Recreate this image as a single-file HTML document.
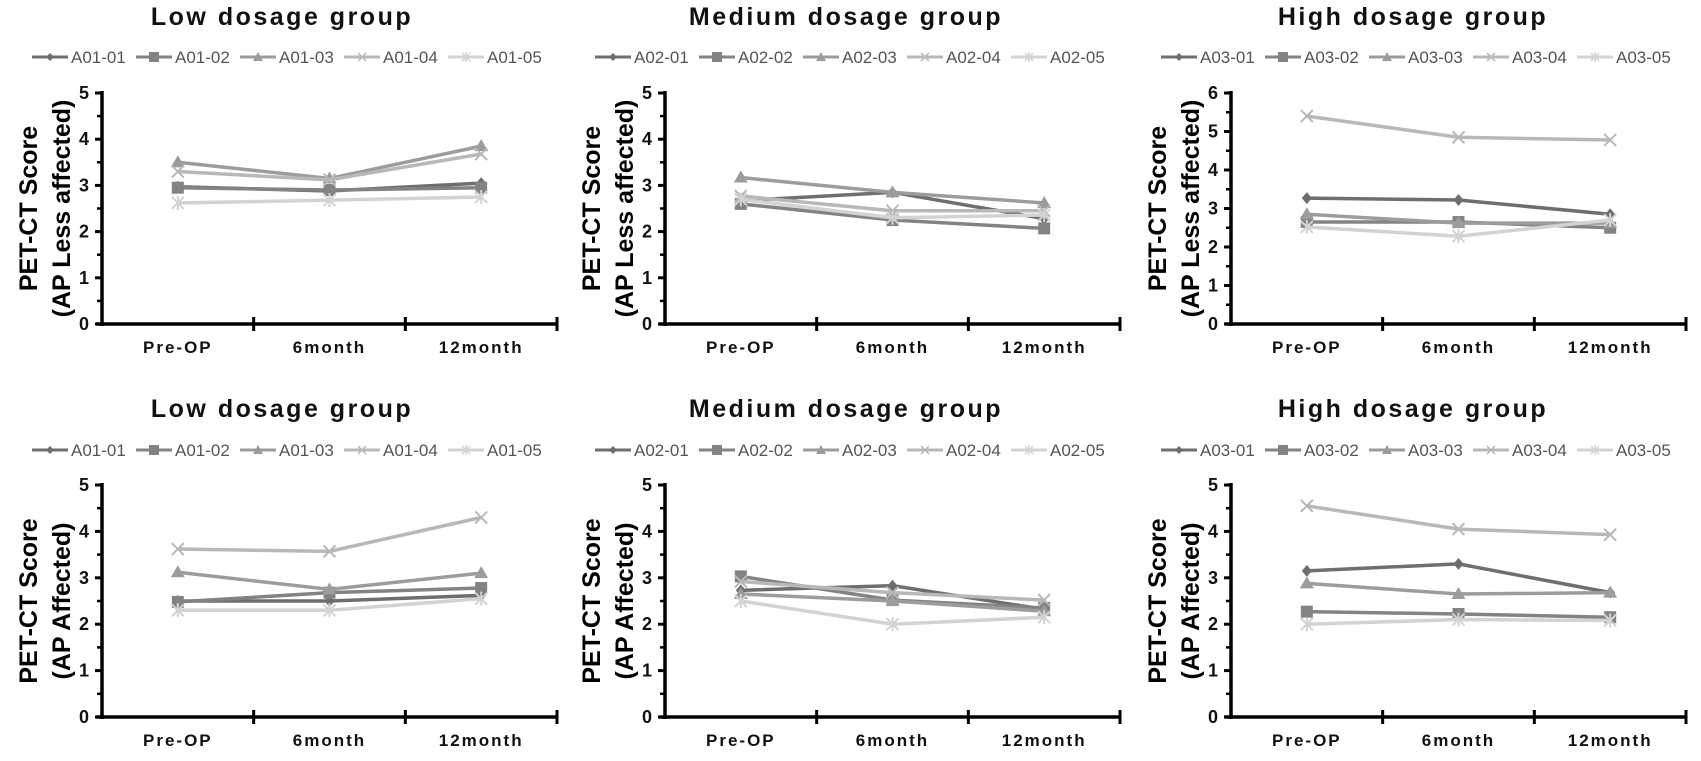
<!DOCTYPE html>
<html><head><meta charset="utf-8"><style>
html,body{margin:0;padding:0;background:#fff;}
svg{display:block;font-family:"Liberation Sans",Arial,sans-serif;}
.t{font-weight:bold;font-size:25px;letter-spacing:2.5px;fill:#111;}
.lg{font-size:17px;fill:#555;}
.tk{font-weight:bold;font-size:18px;fill:#111;}
.cat{font-weight:bold;font-size:17px;letter-spacing:2px;fill:#111;}
.yl{font-weight:bold;font-size:25px;fill:#000;}
</style></head><body>
<svg id="s" width="1701" height="761" viewBox="0 0 1701 761" xmlns="http://www.w3.org/2000/svg">
<text class="t" x="282" y="25" text-anchor="middle">Low dosage group</text>
<text class="t" x="846" y="25" text-anchor="middle">Medium dosage group</text>
<text class="t" x="1413" y="25" text-anchor="middle">High dosage group</text>
<text class="t" x="282" y="417" text-anchor="middle">Low dosage group</text>
<text class="t" x="846" y="417" text-anchor="middle">Medium dosage group</text>
<text class="t" x="1413" y="417" text-anchor="middle">High dosage group</text>
</svg>
<script>
var S=document.getElementById('s'),NS='http://www.w3.org/2000/svg';
function el(n,a,txt){var e=document.createElementNS(NS,n);for(var k in a)e.setAttribute(k,a[k]);if(txt)e.textContent=txt;S.appendChild(e);return e;}
var cols=['#6e6e6e','#838383','#9c9c9c','#b8b8b8','#d3d3d3'];
function marker(k,x,y,c){
 if(k==0)el('polygon',{points:(x)+','+(y-6)+' '+(x+5)+','+y+' '+x+','+(y+6)+' '+(x-5)+','+y,fill:c});
 else if(k==1)el('rect',{x:x-6,y:y-6,width:12,height:12,fill:c});
 else if(k==2)el('polygon',{points:x+','+(y-7)+' '+(x+7)+','+(y+5)+' '+(x-7)+','+(y+5),fill:c});
 else if(k==3){el('path',{d:'M'+(x-6)+' '+(y-6)+'L'+(x+6)+' '+(y+6)+'M'+(x+6)+' '+(y-6)+'L'+(x-6)+' '+(y+6),stroke:c,'stroke-width':2});}
 else {el('path',{d:'M'+(x-6)+' '+(y-6)+'L'+(x+6)+' '+(y+6)+'M'+(x+6)+' '+(y-6)+'L'+(x-6)+' '+(y+6)+'M'+x+' '+(y-7)+'L'+x+' '+(y+7),stroke:c,'stroke-width':2});}
}
function lmarker(k,x,y,c){
 if(k==0)el('polygon',{points:x+','+(y-4)+' '+(x+4)+','+y+' '+x+','+(y+4)+' '+(x-4)+','+y,fill:c});
 else if(k==1)el('rect',{x:x-5,y:y-5,width:10,height:10,fill:c});
 else if(k==2)el('polygon',{points:x+','+(y-5)+' '+(x+5)+','+(y+4)+' '+(x-5)+','+(y+4),fill:c});
 else if(k==3)el('path',{d:'M'+(x-4)+' '+(y-4)+'L'+(x+4)+' '+(y+4)+'M'+(x+4)+' '+(y-4)+'L'+(x-4)+' '+(y+4),stroke:c,'stroke-width':1.5});
 else el('path',{d:'M'+(x-4)+' '+(y-4)+'L'+(x+4)+' '+(y+4)+'M'+(x+4)+' '+(y-4)+'L'+(x-4)+' '+(y+4)+'M'+x+' '+(y-5)+'L'+x+' '+(y+5),stroke:c,'stroke-width':1.5});
}
var panels=[
 {ax:102,y0:324,top:93,max:5,pre:'A01',yl:'(AP Less affected)',d:[[2.97,2.88,3.05],[2.95,2.9,2.95],[3.5,3.15,3.85],[3.3,3.12,3.68],[2.62,2.68,2.75]]},
 {ax:665,y0:324,top:93,max:5,pre:'A02',yl:'(AP Less affected)',d:[[2.67,2.85,2.28],[2.6,2.25,2.07],[3.17,2.85,2.62],[2.77,2.45,2.45],[2.7,2.3,2.36]]},
 {ax:1231,y0:324,top:93,max:6,pre:'A03',yl:'(AP Less affected)',d:[[3.27,3.22,2.85],[2.65,2.65,2.5],[2.85,2.62,2.62],[5.4,4.85,4.78],[2.52,2.28,2.7]]},
 {ax:102,y0:717,top:485,max:5,pre:'A01',yl:'(AP Affected)',d:[[2.5,2.5,2.62],[2.48,2.68,2.78],[3.12,2.75,3.1],[3.62,3.57,4.3],[2.3,2.3,2.55]]},
 {ax:665,y0:717,top:485,max:5,pre:'A02',yl:'(AP Affected)',d:[[2.73,2.83,2.32],[3.03,2.52,2.35],[2.65,2.5,2.28],[2.92,2.68,2.52],[2.5,2.0,2.15]]},
 {ax:1231,y0:717,top:485,max:5,pre:'A03',yl:'(AP Affected)',d:[[3.15,3.3,2.68],[2.27,2.22,2.15],[2.88,2.65,2.68],[4.55,4.05,3.93],[2.0,2.1,2.08]]}
];
var cats=['Pre-OP','6month','12month'];
panels.forEach(function(p){
 var ax=p.ax,y0=p.y0,u=(p.y0-p.top)/p.max,W=455,cw=W/3;
 var ly=p.y0-267;
 for(var i=0;i<5;i++){var lx=ax-70+i*104;el('line',{x1:lx,y1:ly,x2:lx+36,y2:ly,stroke:cols[i],'stroke-width':3});lmarker(i,lx+18,ly,cols[i]);el('text',{x:lx+39,y:ly+6,'class':'lg'},p.pre+'-0'+(i+1));}
 var cy=(p.y0+p.top)/2;
 el('text',{'class':'yl',x:0,y:0,'text-anchor':'middle',transform:'translate('+(ax-65)+','+cy+') rotate(-90)'},'PET-CT Score');
 el('text',{'class':'yl',x:0,y:0,'text-anchor':'middle',transform:'translate('+(ax-32)+','+cy+') rotate(-90)'},p.yl);
 el('line',{x1:ax,y1:p.top-2,x2:ax,y2:y0+2,stroke:'#000','stroke-width':3.5});
 el('line',{x1:ax-6,y1:y0,x2:ax+W,y2:y0,stroke:'#000','stroke-width':3.5});
 for(var v=0;v<=p.max;v++){var y=y0-v*u;el('line',{x1:ax-7,y1:y,x2:ax,y2:y,stroke:'#000','stroke-width':3});el('text',{'class':'tk',x:ax-13,y:y+6,'text-anchor':'end'},''+v);
  if(v<p.max)el('line',{x1:ax-5,y1:y-u/2,x2:ax,y2:y-u/2,stroke:'#000','stroke-width':2.5});}
 for(var j=1;j<=3;j++){var x=ax+j*cw;el('line',{x1:x,y1:y0-7,x2:x,y2:y0+7,stroke:'#000','stroke-width':3});}
 cats.forEach(function(c,j){el('text',{'class':'cat',x:ax+cw*(j+0.5),y:y0+29,'text-anchor':'middle'},c);});
 for(var i=0;i<5;i++){var pts=p.d[i].map(function(v,j){return [ax+cw*(j+0.5),y0-v*u];});
  el('polyline',{points:pts.map(function(q){return q.join(',');}).join(' '),fill:'none',stroke:cols[i],'stroke-width':3.5});
  pts.forEach(function(q){marker(i,q[0],q[1],cols[i]);});}
});
</script>
</body></html>
